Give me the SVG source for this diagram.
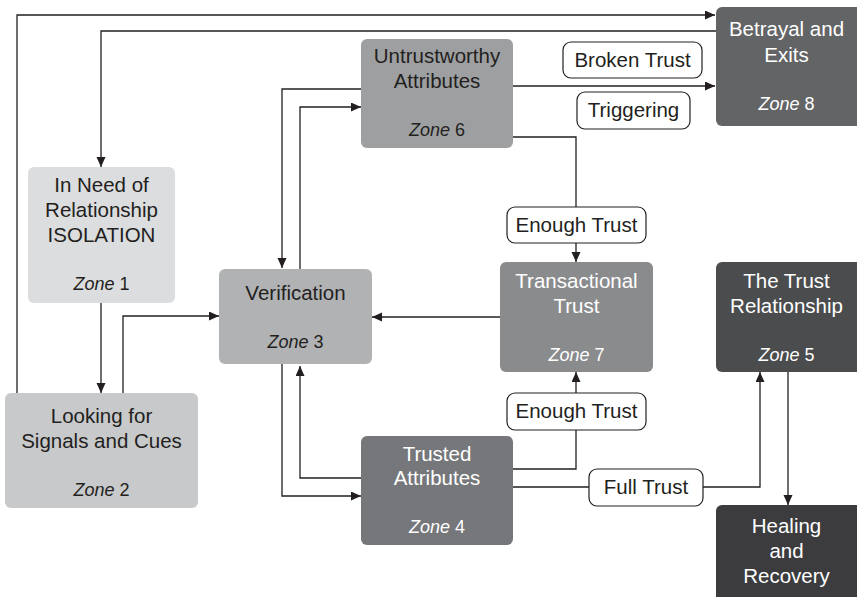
<svg xmlns="http://www.w3.org/2000/svg" width="857" height="597" viewBox="0 0 857 597">
<style>
.t{font-family:"Liberation Sans",Arial,sans-serif;font-size:20.5px;text-anchor:middle}
.z{font-family:"Liberation Sans",Arial,sans-serif;font-size:18px;text-anchor:middle}
.z tspan.i{font-style:italic}
.d{fill:#231f20}
.w{fill:#ffffff}
.c{fill:none;stroke:#231f20;stroke-width:1.3}
.lb{fill:#ffffff;stroke:#231f20;stroke-width:1.2}
</style>
<defs>
<marker id="a" markerUnits="userSpaceOnUse" markerWidth="10" markerHeight="10" refX="10" refY="4.5" orient="auto">
<path d="M0,0 L10,4.5 L0,9 z" fill="#231f20"/>
</marker>
</defs>
<rect width="857" height="597" fill="#ffffff"/>
<g id="connectors">
<path class="c" d="M17,393 V15 H715" marker-end="url(#a)"/>
<path class="c" d="M716,31 H101 V167" marker-end="url(#a)"/>
<path class="c" d="M101,303 V393" marker-end="url(#a)"/>
<path class="c" d="M123,393 V316 H219" marker-end="url(#a)"/>
<path class="c" d="M361,89 H282 V268" marker-end="url(#a)"/>
<path class="c" d="M300,269 V107 H361" marker-end="url(#a)"/>
<path class="c" d="M513,86 H715" marker-end="url(#a)"/>
<path class="c" d="M513,137 H576 V262" marker-end="url(#a)"/>
<path class="c" d="M500,317 H372" marker-end="url(#a)"/>
<path class="c" d="M361,478 H300 V366" marker-end="url(#a)"/>
<path class="c" d="M282,364 V496 H361" marker-end="url(#a)"/>
<path class="c" d="M513,469 H576 V372" marker-end="url(#a)"/>
<path class="c" d="M513,487 H760 V372" marker-end="url(#a)"/>
<path class="c" d="M788,372 V505" marker-end="url(#a)"/>
</g>
<g id="label-broken-trust">
<rect class="lb" x="563" y="42" width="139" height="36" rx="8"/>
<text class="t d" x="632.5" y="67">Broken Trust</text>
</g>
<g id="label-triggering">
<rect class="lb" x="577" y="92" width="113" height="37" rx="8"/>
<text class="t d" x="633.5" y="117">Triggering</text>
</g>
<g id="label-enough-trust-1">
<rect class="lb" x="507" y="207" width="139" height="36" rx="8"/>
<text class="t d" x="576.5" y="232">Enough Trust</text>
</g>
<g id="label-enough-trust-2">
<rect class="lb" x="507" y="393" width="139" height="37" rx="8"/>
<text class="t d" x="576.5" y="418">Enough Trust</text>
</g>
<g id="label-full-trust">
<rect class="lb" x="589" y="469" width="114" height="37" rx="8"/>
<text class="t d" x="646" y="494">Full Trust</text>
</g>
<g id="zone1">
<rect x="28" y="167" width="147" height="136" rx="6" fill="#dcdddf"/>
<text class="t d" x="101.5" y="192">In Need of</text>
<text class="t d" x="101.5" y="217">Relationship</text>
<text class="t d" x="101.5" y="242">ISOLATION</text>
<text class="z d" x="101.5" y="290"><tspan class="i">Zone</tspan> 1</text>
</g>
<g id="zone2">
<rect x="5" y="393" width="193" height="115" rx="6" fill="#c8c9cb"/>
<text class="t d" x="101.5" y="423">Looking for</text>
<text class="t d" x="101.5" y="448">Signals and Cues</text>
<text class="z d" x="101.5" y="496"><tspan class="i">Zone</tspan> 2</text>
</g>
<g id="zone3">
<rect x="219" y="269" width="153" height="95" rx="6" fill="#b1b2b4"/>
<text class="t d" x="295.5" y="300">Verification</text>
<text class="z d" x="295.5" y="348"><tspan class="i">Zone</tspan> 3</text>
</g>
<g id="zone6">
<rect x="361" y="39" width="152" height="109" rx="6" fill="#9e9fa1"/>
<text class="t d" x="437" y="63">Untrustworthy</text>
<text class="t d" x="437" y="88">Attributes</text>
<text class="z d" x="437" y="136"><tspan class="i">Zone</tspan> 6</text>
</g>
<g id="zone8">
<rect x="716" y="7" width="150" height="119" rx="6" fill="#636466"/>
<text class="t w" x="786.5" y="36">Betrayal and</text>
<text class="t w" x="786.5" y="62">Exits</text>
<text class="z w" x="786.5" y="110"><tspan class="i">Zone</tspan> 8</text>
</g>
<g id="zone7">
<rect x="500" y="262" width="153" height="110" rx="6" fill="#8a8b8d"/>
<text class="t w" x="576.5" y="288">Transactional</text>
<text class="t w" x="576.5" y="313">Trust</text>
<text class="z w" x="576.5" y="361"><tspan class="i">Zone</tspan> 7</text>
</g>
<g id="zone5">
<rect x="716" y="262" width="150" height="110" rx="6" fill="#4b4c4e"/>
<text class="t w" x="786.5" y="288">The Trust</text>
<text class="t w" x="786.5" y="313">Relationship</text>
<text class="z w" x="786.5" y="361"><tspan class="i">Zone</tspan> 5</text>
</g>
<g id="zone4">
<rect x="361" y="436" width="152" height="109" rx="6" fill="#76777a"/>
<text class="t w" x="437" y="461">Trusted</text>
<text class="t w" x="437" y="485">Attributes</text>
<text class="z w" x="437" y="533"><tspan class="i">Zone</tspan> 4</text>
</g>
<g id="healing">
<rect x="716" y="505" width="150" height="100" rx="6" fill="#3c3c3e"/>
<text class="t w" x="786.5" y="533">Healing</text>
<text class="t w" x="786.5" y="558">and</text>
<text class="t w" x="786.5" y="583">Recovery</text>
</g>
</svg>
